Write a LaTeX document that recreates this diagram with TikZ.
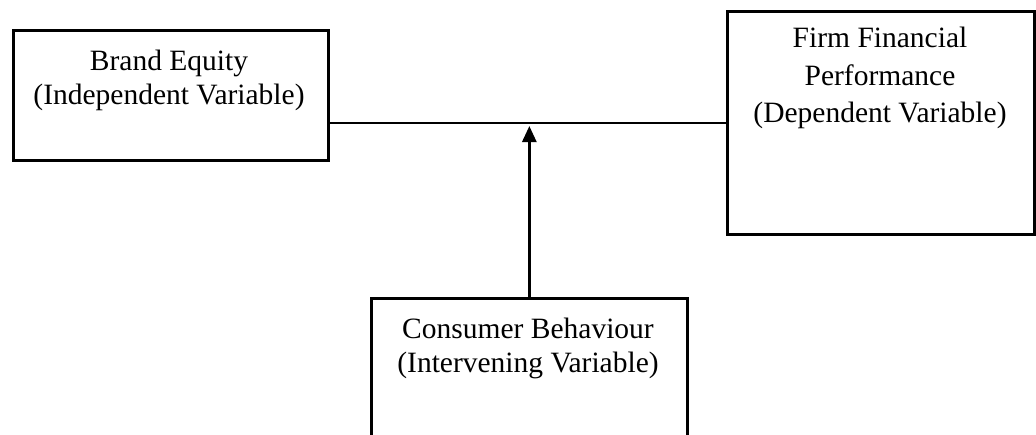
\documentclass[tikz,border=0pt]{standalone}
\usepackage{fontspec}
\setmainfont{Liberation Serif}
\usetikzlibrary{arrows.meta}
\begin{document}
\begin{tikzpicture}[x=1pt,y=-1pt,
  box/.style={draw=black,line width=2.7pt,minimum width=#1,inner sep=0pt,anchor=north west},
  lbl/.style={font=\fontsize{29.5}{35}\selectfont,inner sep=0pt,anchor=base},
  conn/.style={line width=2.7pt}]
\useasboundingbox (0,0) rectangle (1036,434);
\clip (0,0) rectangle (1036,434);
\node[box=315pt,minimum height=130pt] (be) at (12,29) {};
\node[box=307pt,minimum height=223pt] (ffp) at (726,10) {};
\node[box=316pt,minimum height=200pt] (cb) at (370,297) {};
\node[lbl] (be1) at (169,70) {Brand Equity};
\node[lbl] (be2) at (169,104) {(Independent Variable)};
\node[lbl] (ffp1) at (880,47) {Firm Financial};
\node[lbl] (ffp2) at (880,85) {Performance};
\node[lbl] (ffp3) at (880,122) {(Dependent Variable)};
\node[lbl] (cb1) at (528,338) {Consumer Behaviour};
\node[lbl] (cb2) at (528,372) {(Intervening Variable)};
\coordinate (mid) at (528,123);
\draw[conn] (be.east |- mid) -- (ffp.west |- mid);
\draw[conn,-{Triangle[width=14pt,length=16pt]},shorten >=3pt] (cb.north |- cb.north) -- (cb.north |- mid);
\end{tikzpicture}
\end{document}
